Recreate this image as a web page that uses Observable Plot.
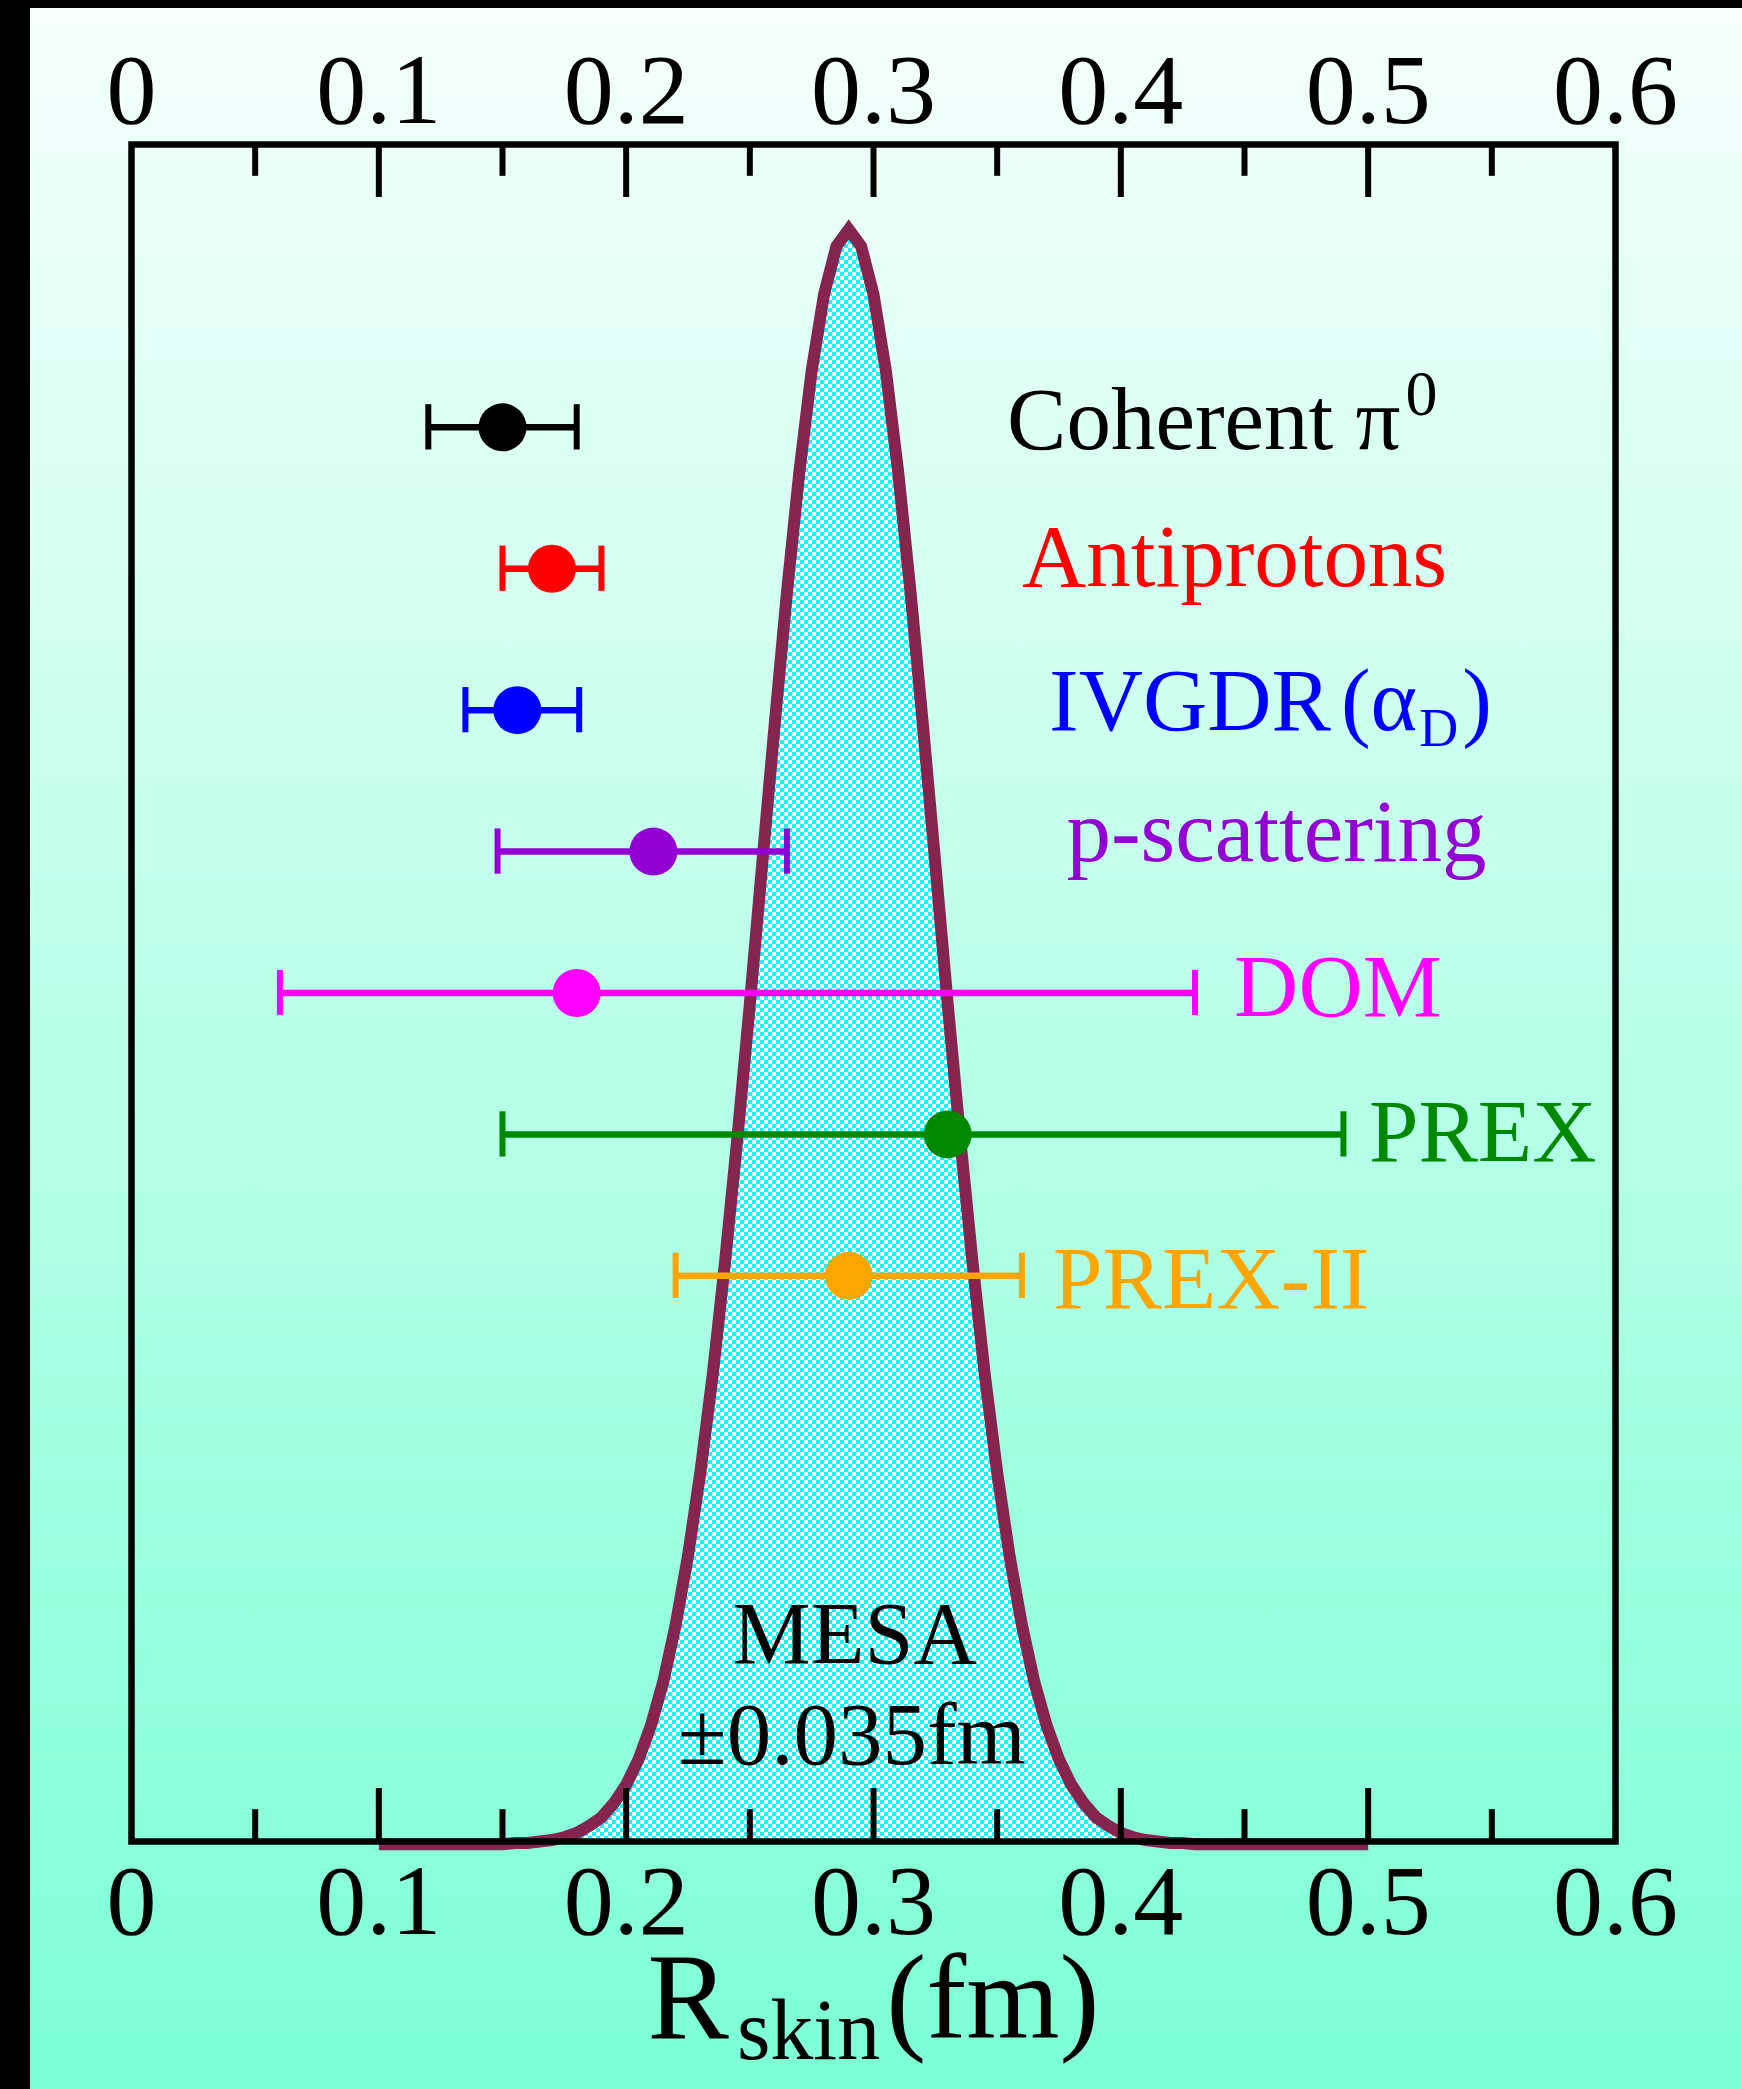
<!DOCTYPE html>
<html>
<head>
<meta charset="utf-8">
<script src="https://cdn.jsdelivr.net/npm/d3@7"></script>
<script src="https://cdn.jsdelivr.net/npm/@observablehq/plot@0.6"></script>
<style>
  html, body { margin: 0; padding: 0; }
  #wrap { position: relative; width: 1742px; height: 2089px; overflow: hidden;
          background: linear-gradient(to bottom, #f5fffc 0%, #7cffd6 100%); }
  #chart svg { display: block; }
  .bar { position: absolute; background: #000; }
</style>
</head>
<body>
<div id="wrap">
  <div id="chart"></div>
  <div class="bar" style="left:0;top:0;width:30px;height:2089px"></div>
  <div class="bar" style="left:0;top:0;width:1742px;height:8px"></div>
</div>
<script>
// ---- data ----
const names   = ["Coherent π0", "Antiprotons", "IVGDR(αD)", "p-scattering", "DOM", "PREX", "PREX-II"];
const central = [0.15, 0.17, 0.156, 0.211, 0.18, 0.33, 0.29];
const lower   = [0.12, 0.15, 0.135, 0.148, 0.06, 0.15, 0.22];
const upper   = [0.18, 0.19, 0.181, 0.265, 0.43, 0.49, 0.36];
const rows    = [10, 9, 8, 7, 6, 5, 4];
const colors  = ["#000000", "#ff0000", "#0000ff", "#9400d3", "#ff00ff", "#008800", "#ffa500"];

const tickValues = [0, 0.1, 0.2, 0.3, 0.4, 0.5, 0.6];
const tickLabels = ["0", "0.1", "0.2", "0.3", "0.4", "0.5", "0.6"];
const majorTicks = [0.1, 0.2, 0.3, 0.4, 0.5];
const minorTicks = [0.05, 0.15, 0.25, 0.35, 0.45, 0.55];

// MESA projected distribution
const curveR = [0.100,0.105,0.110,0.115,0.120,0.125,0.130,0.135,0.140,0.145,
  0.150,0.155,0.160,0.165,0.170,0.175,0.180,0.185,0.190,0.195,
  0.200,0.205,0.210,0.215,0.220,0.225,0.230,0.235,0.240,0.245,
  0.250,0.255,0.260,0.265,0.270,0.275,0.280,0.285,0.290,0.295,
  0.300,0.305,0.310,0.315,0.320,0.325,0.330,0.335,0.340,0.345,
  0.350,0.355,0.360,0.365,0.370,0.375,0.380,0.385,0.390,0.395,
  0.400,0.405,0.410,0.415,0.420,0.425,0.430,0.435,0.440,0.445,
  0.450,0.455,0.460,0.465,0.470,0.475,0.480,0.485,0.490,0.495,0.500];
const curveV = [-0.02,-0.02,-0.02,-0.02,-0.02,-0.02,-0.02,-0.02,-0.02,-0.02,
  -0.02,-0.01,-0.01,0.00,0.01,0.03,0.06,0.11,0.17,0.27,
  0.40,0.58,0.82,1.13,1.53,2.02,2.61,3.30,4.10,4.98,
  5.92,6.91,7.89,8.83,9.68,10.40,10.94,11.28,11.40,11.28,
  10.94,10.40,9.68,8.83,7.89,6.91,5.92,4.98,4.10,3.30,
  2.61,2.02,1.53,1.13,0.82,0.58,0.40,0.27,0.17,0.11,
  0.06,0.03,0.01,0.00,-0.01,-0.01,-0.02,-0.02,-0.02,-0.02,
  -0.02,-0.02,-0.02,-0.02,-0.02,-0.02,-0.02,-0.02,-0.02,-0.02,-0.02];
const curveCenter = 0.29;

// label layout (start x in data units, baseline offset in px from the row)
const labelX  = [0.3540, 0.3600, 0.3710, 0.3780, 0.4458, 0.5003, 0.3726];
const labelDy = [22, 17, 20, 9, 22.5, 27, 32];

// ---- build tables ----
const points = names.map((n, i) => ({name: n, c: central[i], lo: lower[i], hi: upper[i], row: rows[i], color: colors[i], lx: labelX[i], dy: labelDy[i]}));
const curve = curveR.map((r, i) => ({r, v: curveV[i]}));
const ticks = tickValues.map((v, i) => ({v, label: tickLabels[i]}));

const FONT = "'Liberation Serif', 'Times New Roman', serif";
const capH = 0.16;

const marks = [
  Plot.areaY(curve, {x: "r", y: "v", y1: 0, fill: "url(#chk)"}),
  Plot.line(curve, {x: "r", y: "v", stroke: "#862450", strokeWidth: 12, strokeLinejoin: "miter", strokeMiterlimit: 10, strokeLinecap: "butt"}),
  // inward ticks bottom & top
  Plot.ruleX(majorTicks, {x: d => d, y1: 0, y2: 0.375, stroke: "black", strokeWidth: 6}),
  Plot.ruleX(minorTicks, {x: d => d, y1: 0, y2: 0.225, stroke: "black", strokeWidth: 6}),
  Plot.ruleX(majorTicks, {x: d => d, y1: 12, y2: 11.625, stroke: "black", strokeWidth: 6}),
  Plot.ruleX(minorTicks, {x: d => d, y1: 12, y2: 11.775, stroke: "black", strokeWidth: 6}),
  Plot.frame({stroke: "black", strokeWidth: 6.5}),
  // error bars
  Plot.ruleY(points, {y: "row", x1: "lo", x2: "hi", stroke: "color", strokeWidth: 6.5}),
  Plot.ruleX(points, {x: "lo", y1: d => d.row - capH, y2: d => d.row + capH, stroke: "color", strokeWidth: 6}),
  Plot.ruleX(points, {x: "hi", y1: d => d.row - capH, y2: d => d.row + capH, stroke: "color", strokeWidth: 6}),
  Plot.dot(points, {x: "c", y: "row", r: 24, fill: "color", stroke: null}),
  // tick labels
  Plot.text(ticks, {x: "v", y: 12, text: "label", fontSize: 100, dy: -22, lineAnchor: "bottom", textAnchor: "middle", fill: "black"}),
  Plot.text(ticks, {x: "v", y: 0, text: "label", fontSize: 100, dy: 92, lineAnchor: "bottom", textAnchor: "middle", fill: "black"}),
  // axis title
  Plot.text(["Rskin(fm)"], {x: 0.3, y: 0, text: d => d, fontSize: 122, dy: 196, lineAnchor: "bottom", textAnchor: "middle", fill: "black"}),
  // MESA label
  Plot.text(["MESA"], {x: curveCenter, y: 0, text: d => d, fontSize: 88, dy: -179, dx: 6, lineAnchor: "bottom", textAnchor: "middle", fill: "black"}),
  Plot.text(["±0.035fm"], {x: curveCenter, y: 0, text: d => d, fontSize: 89, dy: -78, dx: 3, lineAnchor: "bottom", textAnchor: "middle", fill: "black"}),
  // series labels
  ...points.map(p => Plot.text([p], {x: "lx", y: "row", text: "name", fill: "color", fontSize: 89, dy: p.dy, lineAnchor: "bottom", textAnchor: "start"}))
];

const svg = Plot.plot({
  width: 1742,
  height: 2089,
  marginLeft: 131,
  marginRight: 127,
  marginTop: 144,
  marginBottom: 248,
  x: {domain: [0, 0.6], axis: null},
  y: {domain: [0, 12], axis: null},
  style: {background: "none", fontFamily: FONT, overflow: "visible"},
  marks
});

// checker pattern for the filled distribution
const defs = d3.select(svg).insert("defs", ":first-child");
const pat = defs.append("pattern").attr("id", "chk").attr("width", 8).attr("height", 8).attr("patternUnits", "userSpaceOnUse");
pat.append("rect").attr("width", 8).attr("height", 8).attr("fill", "#ffffff");
pat.append("rect").attr("width", 4).attr("height", 4).attr("fill", "#00ffff");
pat.append("rect").attr("x", 4).attr("y", 4).attr("width", 4).attr("height", 4).attr("fill", "#00ffff");

// rich text (super/subscripts)
function richen(plain, parts) {
  d3.select(svg).selectAll("text").filter(function () { return this.textContent === plain; }).each(function () {
    const t = d3.select(this);
    t.text("");
    for (const p of parts) {
      const s = t.append("tspan").text(p.t);
      if (p.size) s.attr("font-size", p.size);
      if (p.dy) s.attr("dy", p.dy);
      if (p.dx) s.attr("dx", p.dx);
    }
  });
}
richen("Coherent π0", [{t: "Coherent π"}, {t: "0", size: 64, dy: -34, dx: 5}]);
richen("IVGDR(αD)", [{t: "IVGDR"}, {t: "(α", dx: 10}, {t: "D", size: 54, dy: 16, dx: 2}, {t: ")", dy: -16, dx: 4}]);
richen("Rskin(fm)", [{t: "R", size: 122}, {t: "skin", size: 86, dy: 21, dx: 8}, {t: "(fm)", size: 120, dy: -21, dx: 6}]);

document.getElementById("chart").appendChild(svg);
</script>
</body>
</html>
